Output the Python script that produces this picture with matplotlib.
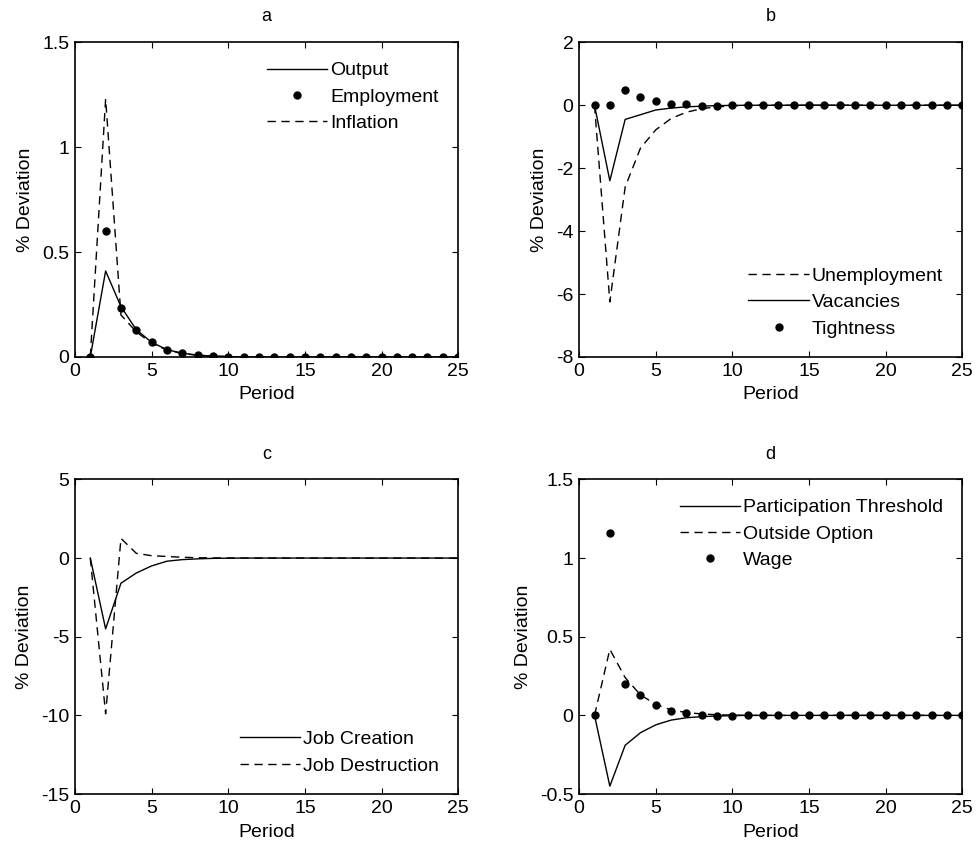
import numpy as np
import matplotlib
matplotlib.use('Agg')
import matplotlib.pyplot as plt

plt.rcParams['font.family'] = ['Liberation Sans', 'DejaVu Sans']
plt.rcParams['font.size'] = 14

# =============================================================================
# data
# =============================================================================
period = np.arange(1, 26)
tail = [0.0] * 15

# panel a
output = [0, 0.41, 0.24, 0.13, 0.07, 0.035, 0.018, 0.009, 0.004, 0.002] + tail
employment = [0, 0.60, 0.235, 0.13, 0.07, 0.035, 0.018, 0.01, 0.003, 0.001] + tail
inflation = [0, 1.23, 0.20, 0.12, 0.065, 0.033, 0.016, 0.008, 0.004, 0.002] + tail

# panel b
unemployment = [0, -6.25, -2.6, -1.36, -0.78, -0.42, -0.22, -0.11, -0.05, -0.02] + tail
vacancies = [0, -2.4, -0.45, -0.3, -0.15, -0.09, -0.05, -0.03, -0.01, -0.005] + tail
tightness = [0, 0, 0.5, 0.25, 0.13, 0.05, 0.03, -0.01, -0.01, 0] + tail

# panel c
job_creation = [0, -4.5, -1.6, -0.95, -0.5, -0.2, -0.1, -0.05, -0.02, -0.01] + tail
job_destruction = [0, -9.9, 1.25, 0.3, 0.15, 0.1, 0.05, 0.02, 0.01, 0.005] + tail

# panel d
participation = [0, -0.45, -0.19, -0.11, -0.06, -0.03, -0.015, -0.008, -0.004, -0.002] + tail
outside_option = [0, 0.42, 0.24, 0.13, 0.07, 0.035, 0.018, 0.009, 0.004, 0.002] + tail
wage = [0, 1.16, 0.20, 0.13, 0.065, 0.025, 0.015, 0.005, -0.003, -0.001] + tail

# =============================================================================
# plot
# =============================================================================
fig = plt.figure(figsize=(9.8, 8.55), dpi=100)
w, h = 0.391, 0.368
ax_a = fig.add_axes([0.0765, 0.5825, w, h])
ax_b = fig.add_axes([0.591, 0.5825, w, h])
ax_c = fig.add_axes([0.0765, 0.0713, w, h])
ax_d = fig.add_axes([0.591, 0.0713, w, h])

dash = (0, (6, 4))
dot_kw = dict(linestyle='none', marker='o', markersize=5, color='k')
line_kw = dict(color='k', linewidth=1)

ax_a.plot(period, output, label='Output', **line_kw)
ax_a.plot(period, employment, label='Employment', **dot_kw)
ax_a.plot(period, inflation, linestyle=dash, label='Inflation', **line_kw)
ax_a.set_ylim(0, 1.5)
ax_a.set_yticks([0, 0.5, 1, 1.5])
ax_a.set_title('a', fontsize=13, pad=15)

ax_b.plot(period, unemployment, linestyle=dash, label='Unemployment', **line_kw)
ax_b.plot(period, vacancies, label='Vacancies', **line_kw)
ax_b.plot(period, tightness, label='Tightness', **dot_kw)
ax_b.set_ylim(-8, 2)
ax_b.set_yticks([-8, -6, -4, -2, 0, 2])
ax_b.set_title('b', fontsize=13, pad=15)

ax_c.plot(period, job_creation, label='Job Creation', **line_kw)
ax_c.plot(period, job_destruction, linestyle=dash, label='Job Destruction', **line_kw)
ax_c.set_ylim(-15, 5)
ax_c.set_yticks([-15, -10, -5, 0, 5])
ax_c.set_title('c', fontsize=13, pad=15)

ax_d.plot(period, participation, label='Participation Threshold', **line_kw)
ax_d.plot(period, outside_option, linestyle=dash, label='Outside Option', **line_kw)
ax_d.plot(period, wage, label='Wage', **dot_kw)
ax_d.set_ylim(-0.5, 1.5)
ax_d.set_yticks([-0.5, 0, 0.5, 1, 1.5])
ax_d.set_title('d', fontsize=13, pad=15)

for ax, loc in [(ax_a, 'upper right'), (ax_b, 'lower right'),
                (ax_c, 'lower right'), (ax_d, 'upper right')]:
    ax.set_xlim(0, 25)
    ax.set_xticks([0, 5, 10, 15, 20, 25])
    ax.set_xlabel('Period', labelpad=5)
    ax.set_ylabel('% Deviation', labelpad=6)
    ax.tick_params(direction='in', top=True, right=True, length=4, width=0.8, pad=4)
    ax.yaxis.set_major_formatter(plt.FuncFormatter(lambda v, p: ('%g' % v)))
    for s in ax.spines.values():
        s.set_linewidth(1.2)
    ax.legend(loc=loc, frameon=False, handlelength=3.1, handletextpad=0.15,
              labelspacing=0.45, borderaxespad=0.6)

fig.savefig('out.png', dpi=100)
